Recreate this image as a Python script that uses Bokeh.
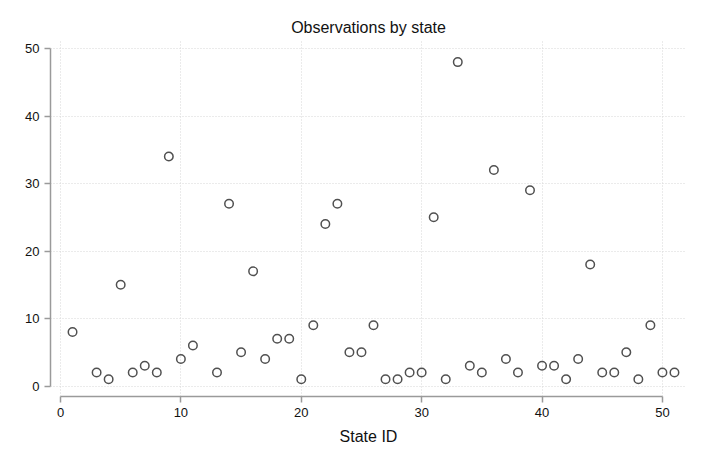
from bokeh.plotting import figure
from bokeh.models import Range1d, FixedTicker, ColumnDataSource
from bokeh.embed import file_html
from bokeh.resources import INLINE

state_id = [1, 3, 4, 5, 6, 7, 8, 9, 10, 11, 13, 14, 15, 16, 17, 18, 19, 20, 21, 22,
            23, 24, 25, 26, 27, 28, 29, 30, 31, 32, 33, 34, 35, 36, 37, 38, 39, 40,
            41, 42, 43, 44, 45, 46, 47, 48, 49, 50, 51]
observations = [8, 2, 1, 15, 2, 3, 2, 34, 4, 6, 2, 27, 5, 17, 4, 7, 7, 1, 9, 24,
                27, 5, 5, 9, 1, 1, 2, 2, 25, 1, 48, 3, 2, 32, 4, 2, 29, 3,
                3, 1, 4, 18, 2, 2, 5, 1, 9, 2, 2]
x_ticks = [0, 10, 20, 30, 40, 50]
y_ticks = [0, 10, 20, 30, 40, 50]

src = ColumnDataSource(dict(x=state_id, y=observations))

p = figure(width=694, height=460, output_backend="svg", toolbar_location=None,
           x_range=Range1d(-0.83, 52.0), y_range=Range1d(-1.55, 51.2),
           title="Observations by state")
p.min_border_left = 50
p.min_border_right = 8
p.min_border_top = 40
p.min_border_bottom = 64
p.outline_line_color = None
p.background_fill_color = "white"

p.title.align = "center"
p.title.text_font = "Liberation Sans"
p.title.text_font_size = "16px"
p.title.text_font_style = "normal"
p.title.text_color = "#111111"
p.title.offset = 0

p.scatter("x", "y", source=src, marker="circle", size=8.5, fill_color=None,
          line_color="#505050", line_width=1.5)

for ax in (p.xaxis[0], p.yaxis[0]):
    ax.axis_line_color = "#9a9a9a"
    ax.axis_line_width = 1.5
    ax.major_tick_line_color = "#9a9a9a"
    ax.major_tick_line_width = 1.5
    ax.major_tick_out = 6
    ax.major_tick_in = 0
    ax.minor_tick_line_color = None
    ax.bounds = (0, 50)
    ax.major_label_text_font = "Liberation Sans"
    ax.major_label_text_font_size = "13px"
    ax.major_label_text_color = "#111111"

p.xaxis.ticker = FixedTicker(ticks=x_ticks)
p.yaxis.ticker = FixedTicker(ticks=y_ticks)
p.yaxis.major_label_orientation = "horizontal"
p.xaxis.axis_label = "State ID"
p.xaxis.axis_label_text_font = "Liberation Sans"
p.xaxis.axis_label_text_font_size = "16px"
p.xaxis.axis_label_text_font_style = "normal"
p.xaxis.axis_label_text_color = "#111111"
p.xaxis.axis_label_standoff = 8

for g in (p.xgrid[0], p.ygrid[0]):
    g.grid_line_color = "#d6d6d6"
    g.grid_line_dash = "1 2"
    g.grid_line_width = 1

open("out.html", "w").write(file_html(p, INLINE))
